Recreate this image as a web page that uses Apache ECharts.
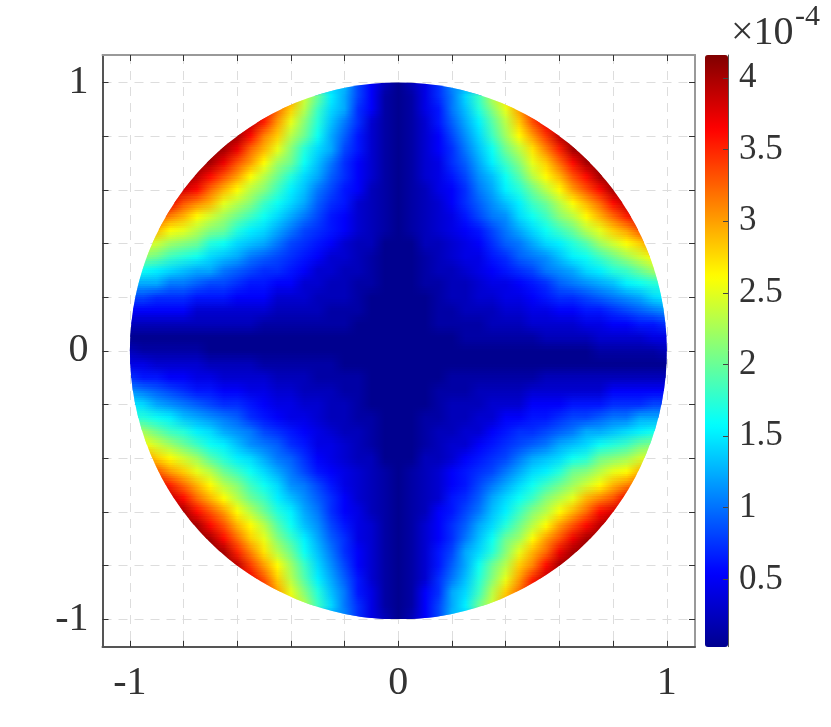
<!DOCTYPE html>
<html><head><meta charset="utf-8">
<style>html,body{margin:0;padding:0;background:#fff}#c{width:831px;height:727px}</style>
<script src="https://cdn.jsdelivr.net/npm/echarts@6/dist/echarts.min.js"></script>
</head><body><div id="c"></div>
<script>
// Surface values, in units of 1e-5; every row is centred on x = 0, rows run y = 1 ... -1.
const gridStep = 0.05;
const yRowsTop = 1;
const surfaceRows = [
[13,8,5,2,0,2,4,7,11],
[30,24,20,15,12,8,5,1,0,1,4,7,10,14,18,23,27],
[37,32,28,23,18,14,12,7,5,1,0,1,4,6,10,13,17,21,25,30,35],
[39,35,30,25,21,17,13,10,7,3,1,0,1,3,6,9,12,15,19,23,28,33,37],
[41,40,36,31,28,23,20,16,12,9,6,3,1,0,1,3,5,8,11,14,18,22,26,30,34,39,41],
[41,40,37,32,29,25,21,17,14,12,8,6,3,1,0,1,3,5,7,10,13,16,20,23,27,31,35,40,41],
[41,40,37,33,30,26,22,20,16,13,10,7,5,3,1,0,1,3,4,7,9,12,15,18,21,25,28,32,36,40,41],
[41,39,36,33,30,26,23,20,17,14,12,9,7,5,3,1,0,1,3,4,6,8,11,13,16,19,23,26,29,33,36,40,41],
[38,36,32,29,26,23,21,18,15,13,10,8,6,5,2,1,0,1,2,4,5,7,10,12,15,17,20,23,26,30,33,36,40],
[37,33,31,29,25,23,21,18,16,14,12,9,7,6,3,2,1,0,1,2,3,5,7,9,11,13,15,18,20,23,26,29,32,36,39],
[33,31,29,26,24,22,20,18,16,14,12,10,8,6,5,3,2,1,0,1,2,3,4,6,8,10,11,14,16,18,21,23,26,29,32,35,38],
[29,26,25,23,21,20,17,15,14,12,10,8,7,6,5,3,2,1,0,1,2,3,4,5,6,8,10,12,14,16,18,20,23,25,28,30,33],
[25,24,22,21,20,17,16,14,13,12,10,8,7,6,5,3,2,2,0,0,0,2,2,3,4,5,7,9,10,12,14,15,17,19,22,24,26,28,31],
[21,20,18,17,16,14,13,12,10,9,8,7,6,5,3,3,2,1,0,0,0,1,2,3,4,4,6,7,9,10,11,13,15,16,18,20,22,24,26],
[16,15,14,13,12,12,10,9,8,7,7,6,5,3,3,2,2,1,0,0,0,1,2,2,3,4,5,6,7,8,10,11,12,14,15,17,18,20,22],
[12,12,10,10,9,8,8,7,6,6,5,5,3,3,2,2,1,1,0,0,0,1,1,2,2,3,4,4,5,6,7,9,10,11,12,13,15,16,17],
[8,8,7,7,7,6,6,6,5,5,5,3,3,3,2,2,2,1,0,0,0,0,0,1,2,2,3,3,4,4,5,6,7,7,8,9,10,11,12,14,15],
[5,5,5,5,5,3,3,3,3,3,3,2,2,2,2,1,1,1,0,0,0,0,0,1,1,2,2,2,3,3,4,4,5,5,6,6,7,8,9,10,11],
[2,2,2,2,2,2,2,2,2,2,1,1,1,1,1,1,1,0,0,0,0,0,0,1,1,1,1,2,2,2,3,3,3,3,4,4,5,5,6,6,7],
[0,0,0,0,0,0,0,0,0,0,0,0,0,0,0,0,0,0,0,0,0,0,0,0,0,1,1,1,1,1,1,2,2,2,2,3,3,3,3,4,4],
[2,1,1,1,1,1,0,0,0,0,0,0,0,0,0,0,0,0,0,0,0,0,0,0,0,0,0,0,0,0,0,0,0,0,0,1,1,1,1,1,2],
[4,4,3,3,3,3,2,2,2,2,1,1,1,1,1,1,0,0,0,0,0,0,0,0,0,0,0,0,0,0,0,0,0,0,0,0,0,0,0,0,0],
[7,6,6,5,5,4,4,3,3,3,3,2,2,2,1,1,1,1,0,0,0,0,0,0,1,1,1,1,1,1,1,2,2,2,2,2,2,2,2,2,2],
[11,10,9,8,7,6,6,5,5,4,4,3,3,2,2,2,1,1,0,0,0,0,0,1,1,1,2,2,2,2,3,3,3,3,3,3,5,5,5,5,5],
[15,14,12,11,10,9,8,7,7,6,5,4,4,3,3,2,2,1,0,0,0,0,0,1,2,2,2,3,3,3,5,5,5,6,6,6,7,7,7,8,8],
[17,16,15,13,12,11,10,9,7,6,5,4,4,3,2,2,1,1,0,0,0,1,1,2,2,3,3,5,5,6,6,7,8,8,9,10,10,12,12],
[22,20,18,17,15,14,12,11,10,8,7,6,5,4,3,2,2,1,0,0,0,1,2,2,3,3,5,6,7,7,8,9,10,12,12,13,14,15,16],
[26,24,22,20,18,16,15,13,11,10,9,7,6,4,4,3,2,1,0,0,0,1,2,3,3,5,6,7,8,9,10,12,13,14,16,17,18,20,21],
[31,28,26,24,22,19,17,15,14,12,10,9,7,5,4,3,2,2,0,0,0,2,2,3,5,6,7,8,10,12,13,14,16,17,20,21,22,24,25],
[33,30,28,25,23,20,18,16,14,12,10,8,6,5,4,3,2,1,0,1,2,3,5,6,7,8,10,12,14,15,17,20,21,23,25,26,29],
[38,35,32,29,26,23,21,18,16,14,11,10,8,6,4,3,2,1,0,1,2,3,5,6,8,10,12,14,16,18,20,22,24,26,29,31,33],
[39,36,32,29,26,23,20,18,15,13,11,9,7,5,3,2,1,0,1,2,3,6,7,9,12,14,16,18,21,23,25,29,31,33,37],
[40,36,33,30,26,23,20,17,15,12,10,7,5,4,2,1,0,1,2,5,6,8,10,13,15,18,21,23,26,29,32,36,38],
[41,40,36,33,29,26,23,19,16,13,11,8,6,4,3,1,0,1,3,5,7,9,12,14,17,20,23,26,30,33,36,39,41],
[41,40,36,32,28,25,21,18,15,12,9,7,4,3,1,0,1,3,5,7,10,13,16,20,22,26,30,33,37,40,41],
[41,40,35,31,27,23,20,16,13,10,7,5,3,1,0,1,3,6,8,12,14,17,21,25,29,32,37,40,41],
[41,39,34,30,26,22,18,14,11,8,5,3,1,0,1,3,6,9,12,16,20,23,28,31,36,40,41],
[37,33,28,23,19,15,12,9,6,3,1,0,1,3,7,10,13,17,21,25,30,35,39],
[35,30,25,21,17,13,10,6,4,1,0,1,5,7,12,14,18,23,28,32,37],
[27,23,18,14,10,7,4,1,0,1,5,8,12,15,20,24,30],
[11,7,4,2,0,2,5,8,13]
];
const colorTicks = [0.5,1,1.5,2,2.5,3,3.5,4];
const axisTicks = [-1,-0.8,-0.6,-0.4,-0.2,0,0.2,0.4,0.6,0.8,1];
const axisLabels = [-1,0,1];
const jetColors = ['#00008F','#0000FF','#0080FF','#00FFFF','#80FF80','#FFFF00','#FF8000','#FF0000','#800000'];

const cells = [];
const rowStart = [];
surfaceRows.forEach((row,r)=>{
  const half=(row.length-1)/2;
  rowStart.push(cells.length);
  row.forEach((v,i)=>cells.push([(i-half)*gridStep, yRowsTop-r*gridStep, v/10]));
});
const serif='"Liberation Serif","Times New Roman",serif';
const txt='#333';
function axisBase(o){return Object.assign({type:'value',
  axisTick:{show:true,inside:true,length:6,lineStyle:{color:'#333',width:1},customValues:axisTicks},
  splitLine:{show:false}},o);}
const gridLine={show:true,lineStyle:{color:'#dddddd',type:[9,7],width:1}};
const frame=c=>({show:true,onZero:false,lineStyle:{color:c,width:2}});

// Interpolated shading of the typed surface: one gradient per row, blended between neighbouring rows.
function rowGradient(api,r){
  const start=rowStart[r],len=surfaceRows[r].length;
  const p0=api.coord([cells[start][0],0])[0], p1=api.coord([cells[start+len-1][0],0])[0];
  const stops=[];
  for(let i=0;i<len;i++) stops.push({offset:i/(len-1),color:api.visual('color',start+i)});
  return {type:'linear',x:p0,y:0,x2:p1,y2:0,global:true,colorStops:stops};
}
const subStrips=6;
const option={
 animation:false,
 backgroundColor:'#fff',
 grid:[{left:102.5,top:55,width:592.5,height:591.7},
       {left:705,top:55,width:23,height:591.7}],
 xAxis:[
  axisBase({min:-1.102,max:1.105,position:'bottom',gridIndex:0,splitLine:gridLine,
    axisLine:frame('#555'),
    axisLabel:{show:true,customValues:axisLabels,fontFamily:serif,fontSize:40,color:txt,margin:17}}),
  axisBase({min:-1.102,max:1.105,position:'top',gridIndex:0,
    axisLine:frame('#999'),axisLabel:{show:false}}),
  {type:'value',gridIndex:1,min:0,max:1,show:false}
 ],
 yAxis:[
  axisBase({min:-1.102,max:1.102,position:'left',gridIndex:0,splitLine:gridLine,
    axisLine:frame('#555'),
    axisLabel:{show:true,customValues:axisLabels,fontFamily:serif,fontSize:40,color:txt,margin:14,padding:[5,0,0,0]}}),
  axisBase({min:-1.102,max:1.102,position:'right',gridIndex:0,
    axisLine:frame('#999'),axisLabel:{show:false}}),
  {type:'value',gridIndex:1,min:0.03,max:4.16,position:'right',z:10,
    axisLine:{show:true,onZero:false,lineStyle:{color:'#555',width:1}},
    axisTick:{show:true,inside:true,length:5,lineStyle:{color:'#444',width:1},customValues:colorTicks},
    splitLine:{show:false},
    axisLabel:{show:true,customValues:colorTicks,fontFamily:serif,fontSize:35,color:txt,margin:11,
      formatter:v=>String(v)}}
 ],
 visualMap:{type:'continuous',min:0,max:4.15,dimension:2,seriesIndex:0,left:705,top:55,padding:0,
   itemWidth:23,itemHeight:592,calculable:false,realtime:false,text:null,showLabel:false,hoverLink:false,
   inRange:{color:jetColors},borderWidth:0},
 series:[{type:'custom',coordinateSystem:'cartesian2d',xAxisIndex:0,yAxisIndex:0,z:3,
   clip:false,silent:true,
   encode:{x:0,y:1},
   data:cells,
   renderItem:(params,api)=>{
     const r=rowStart.indexOf(params.dataIndex);
     if(r<0||r>=surfaceRows.length-1) return null;
     const c=api.coord([0,0]),e=api.coord([1,0]);
     const clip={type:'circle',shape:{cx:c[0],cy:c[1],r:e[0]-c[0]}};
     const y0=api.coord([0,api.value(1)])[1], y1=api.coord([0,api.value(1)-gridStep])[1];
     const left=api.coord([-1.05,0])[0], right=api.coord([1.05,0])[0];
     const gA=rowGradient(api,r), gB=rowGradient(api,r+1);
     const children=[];
     for(let s=0;s<subStrips;s++){
       const top=Math.round(y0+(y1-y0)*s/subStrips), bot=Math.round(y0+(y1-y0)*(s+1)/subStrips);
       const shape={x:left,y:top,width:right-left,height:bot-top};
       const w=(s+0.5)/subStrips;
       children.push({type:'rect',shape,style:{fill:gA},clipPath:clip});
       children.push({type:'rect',shape,style:{fill:gB,opacity:w},clipPath:clip});
     }
     return {type:'group',children};
   }}],
 graphic:[
  {type:'text',left:731,top:13,style:{text:'×10',font:'40px '+serif,fill:txt}},
  {type:'text',left:795,top:2,style:{text:'-4',font:'30px '+serif,fill:txt}}
 ]
};
echarts.init(document.getElementById('c'),null,{renderer:'canvas'}).setOption(option);
</script></body></html>
